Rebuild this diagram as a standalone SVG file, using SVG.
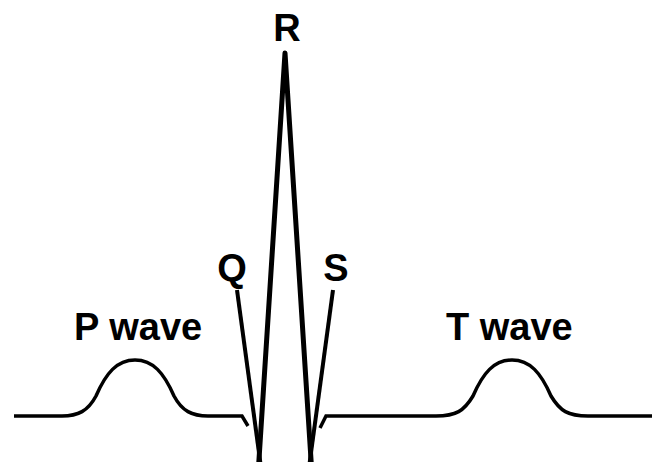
<svg xmlns="http://www.w3.org/2000/svg" width="652" height="462" viewBox="0 0 652 462">
<style>
.lbl{font-family:"Liberation Sans",Arial,sans-serif;font-weight:bold;font-size:38px;fill:#000}
.tr{fill:none;stroke:#000;stroke-linecap:butt;stroke-linejoin:miter}
</style>
<rect width="652" height="462" fill="#fff"/>
<g id="connectors">
<path id="baseline-left" class="tr" stroke-width="3.5" d="M14,416 H62 C78,416 88,411 96,396 C106,373 117,360 135,360 C153,360 164,373 174,396 C182,411 192,416 208,416 H242 L248,426"/>
<path id="baseline-right" class="tr" stroke-width="3.5" d="M320,428 L326,416 H436 C456,416 464,411 473,396 C483,373 494,360 512,360 C530,360 541,373 551,396 C560,411 568,416 588,416 H652"/>
<path id="r-spike" class="tr" stroke-width="5" style="stroke-linejoin:round" d="M258,475 L285,53 L312,475"/>
<line id="q-line" class="tr" stroke-width="4" x1="237" y1="290" x2="262" y2="475"/>
<line id="s-line" class="tr" stroke-width="4" x1="333" y1="290" x2="308" y2="475"/>
</g>
<g id="label-r"><text class="lbl" x="287" y="41" text-anchor="middle">R</text></g>
<g id="label-q"><text class="lbl" x="232" y="281" text-anchor="middle">Q</text></g>
<g id="label-s"><text class="lbl" x="336" y="281" text-anchor="middle">S</text></g>
<g id="label-p"><text class="lbl" x="74" y="340">P wave</text></g>
<g id="label-t"><text class="lbl" x="446" y="340">T wave</text></g>
</svg>
